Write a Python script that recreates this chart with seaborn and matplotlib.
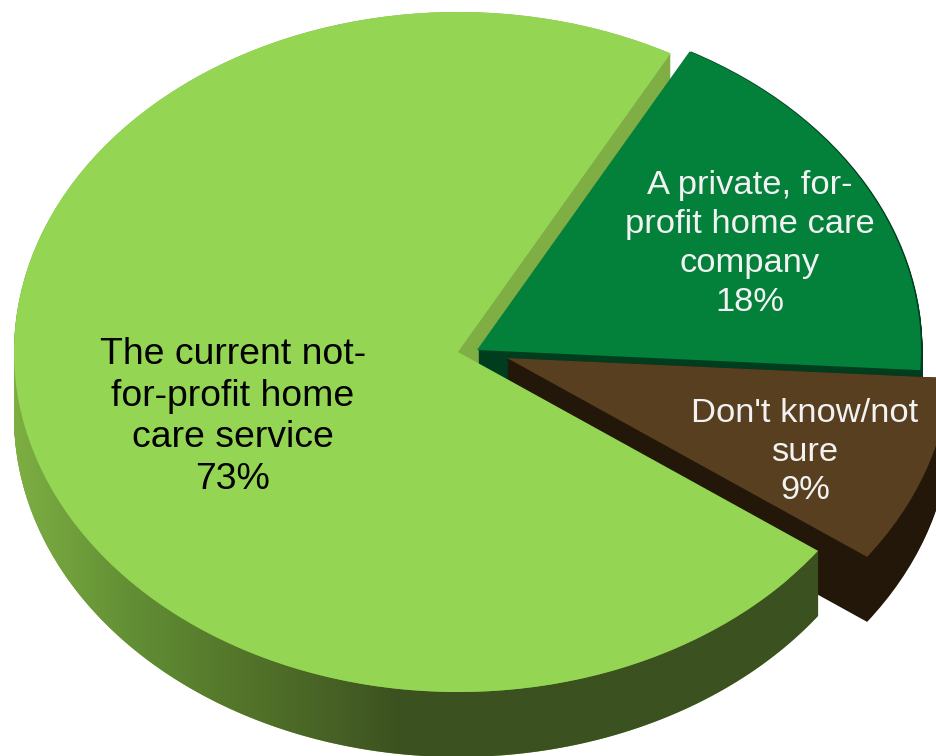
"""
Home care provider preference - exploded 3D style pie
"""

import numpy as np
import matplotlib
matplotlib.use("Agg")
import matplotlib.pyplot as plt
import seaborn as sns
from matplotlib.colors import LinearSegmentedColormap
from matplotlib.patches import PathPatch
from matplotlib.path import Path

labels = ["The current not-\nfor-profit home\ncare service", "Don't know/not\nsure", "A private, for-\nprofit home care\ncompany"]
shares = [73, 9, 18]

face_colors = ["#94d654", "#583f1f", "#03803a"]
side_colors = ["#7fae45", "#231709", "#003d1e"]
text_colors = ["black", "#f2f2f2", "#f2f2f2"]

# layout in reference pixels
W, H = 937, 756
CX, CY = 458, 352
RX, RY = 444, 340
DEPTH = 65
START = 61.4
shifts = [(0, 0), (49, -6), (19, 2)]
label_pos = [(233, 417), (805, 452), (750, 244)]
label_size = [26.9, 24.8, 24.8]
label_spacing = [1.245, 1.33, 1.33]

# outer wall shading of the big slice, left to right
wall_stops = [(14, "#7dae42"), (130, "#628f35"), (250, "#527329"), (340, "#465f25"), (400, "#3b5120"), (937, "#3b5120")]

sns.set_theme(style="white")
plt.rcParams["font.family"] = ["Liberation Sans", "DejaVu Sans"]

fig = plt.figure(figsize=(W / 100, H / 100), dpi=100)
ax = fig.add_axes([0, 0, 1, 1])


def pie_layer(colors, drop=0):
    wedges, _ = ax.pie(shares, colors=sns.color_palette(colors), startangle=START,
                       wedgeprops=dict(linewidth=0))
    for w, (dx, dy) in zip(wedges, shifts):
        w.set_center((dx / RX, (dy - drop) / RY))
    return wedges


# draw order: big slice side, green, brown, then big slice top
for drop in range(DEPTH, -1, -1):
    wedges = pie_layer(side_colors, drop)
    wedges[0].set_zorder(1)
    wedges[2].set_zorder(2)
    wedges[1].set_zorder(4)
    # thin dark rim on the right of the green slice
    wedges[2].set_center(((shifts[2][0] + 1.5) / RX, (shifts[2][1] - drop) / RY))

top = pie_layer(face_colors)
top[2].set_zorder(3)
top[1].set_zorder(5)
top[0].set_zorder(7)

# shaded outer wall of the big slice
theta = np.radians(np.linspace(180, top[0].theta2, 300))
upper = np.column_stack([np.cos(theta), np.sin(theta)])
lower = upper[::-1] - [0, DEPTH / RY]
band = PathPatch(Path(np.vstack([upper, lower, upper[:1]]), closed=True),
                 transform=ax.transData, facecolor="none", edgecolor="none")
ax.add_patch(band)

cmap = LinearSegmentedColormap.from_list(
    "wall", [((x - 14) / (W - 14), c) for x, c in wall_stops])
grad = np.linspace(0, 1, 512).reshape(1, -1)
im = ax.imshow(grad, cmap=cmap, aspect="auto", zorder=6, interpolation="bilinear",
               extent=((14 - CX) / RX, (W - CX) / RX, (CY - H) / RY, CY / RY))
im.set_clip_path(band)

for lab, val, pos, col, size, sp in zip(labels, shares, label_pos, text_colors, label_size, label_spacing):
    ax.text((pos[0] - CX) / RX, (CY - pos[1]) / RY, f"{lab}\n{val}%", color=col,
            fontsize=size, ha="center", va="center", linespacing=sp, zorder=10)

ax.set_aspect("auto")
ax.set_xlim(-CX / RX, (W - CX) / RX)
ax.set_ylim((CY - H) / RY, CY / RY)
ax.axis("off")

plt.savefig("out.png", dpi=100)
